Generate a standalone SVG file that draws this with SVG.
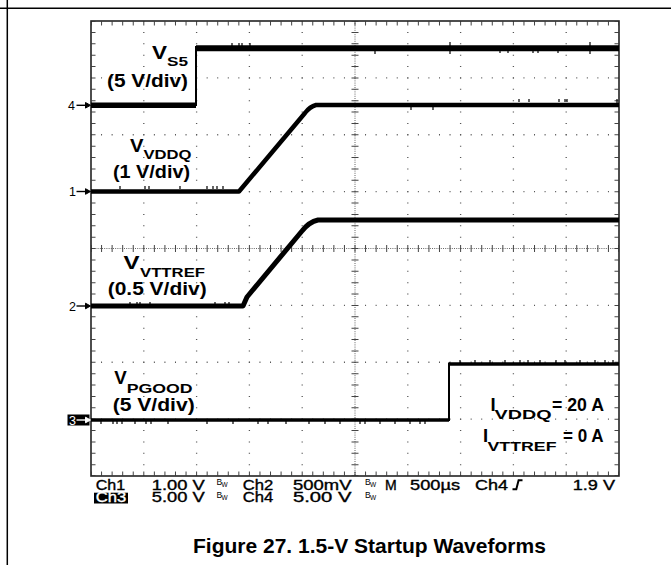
<svg xmlns="http://www.w3.org/2000/svg" xmlns:xlink="http://www.w3.org/1999/xlink" width="671" height="565" viewBox="0 0 671 565">
<style>
.b{font-family:"Liberation Sans",Arial,sans-serif;font-weight:bold;fill:#000}
.v{font-size:18.5px}
.s{font-size:13px}
.d{font-size:18.5px}
.sc{font-family:"Liberation Sans",Arial,sans-serif;font-size:14px;fill:#000;stroke:#000;stroke-width:0.35}
.bw{font-family:"Liberation Sans",Arial,sans-serif;fill:#000}
.mk{font-family:"Liberation Sans",Arial,sans-serif;font-size:12.5px;fill:#000}
.dotv{stroke:#555;stroke-width:1.3;stroke-dasharray:1 10.375;stroke-dashoffset:0.5;fill:none}
.doth{stroke:#555;stroke-width:1.3;stroke-dasharray:1 9.56;stroke-dashoffset:0.5;fill:none}
.tr{stroke:#000;fill:none;stroke-linejoin:round}
</style>
<defs>
<g id="arr"><line x1="0" y1="0" x2="10" y2="0" stroke-width="1.4"/><polygon points="9,-2.8 14,0 9,2.8"/></g>
</defs>
<g id="frame" stroke="#000" stroke-width="1.5">
<line x1="0" y1="8.3" x2="671" y2="8.3"/>
<line x1="7.3" y1="0" x2="7.3" y2="565"/>
</g>
<g id="grid">
<line class="dotv" x1="143.8" y1="21" x2="143.8" y2="476"/>
<line class="dotv" x1="196.6" y1="21" x2="196.6" y2="476"/>
<line class="dotv" x1="249.4" y1="21" x2="249.4" y2="476"/>
<line class="dotv" x1="302.2" y1="21" x2="302.2" y2="476"/>
<line class="dotv" x1="407.8" y1="21" x2="407.8" y2="476"/>
<line class="dotv" x1="460.6" y1="21" x2="460.6" y2="476"/>
<line class="dotv" x1="513.4" y1="21" x2="513.4" y2="476"/>
<line class="dotv" x1="566.2" y1="21" x2="566.2" y2="476"/>
<line class="doth" x1="91" y1="77.9" x2="619" y2="77.9"/>
<line class="doth" x1="91" y1="134.75" x2="619" y2="134.75"/>
<line class="doth" x1="91" y1="191.6" x2="619" y2="191.6"/>
<line class="doth" x1="91" y1="305.4" x2="619" y2="305.4"/>
<line class="doth" x1="91" y1="362.25" x2="619" y2="362.25"/>
<line class="doth" x1="91" y1="419.1" x2="619" y2="419.1"/>
<line x1="355" y1="21" x2="355" y2="476" stroke="#666" stroke-width="1" stroke-dasharray="1 1.2"/>
<line x1="91" y1="248.5" x2="619" y2="248.5" stroke="#666" stroke-width="1" stroke-dasharray="1 1.2"/>
<line x1="355" y1="21" x2="355" y2="476" stroke="#444" stroke-width="7" stroke-dasharray="1 10.375" stroke-dashoffset="0.5"/>
<line x1="91" y1="248.5" x2="619" y2="248.5" stroke="#444" stroke-width="7" stroke-dasharray="1 9.56" stroke-dashoffset="0.5"/>
<line x1="91" y1="23.5" x2="619" y2="23.5" stroke="#444" stroke-width="4" stroke-dasharray="1 9.56" stroke-dashoffset="0.5"/>
<line x1="91" y1="473.5" x2="619" y2="473.5" stroke="#444" stroke-width="4" stroke-dasharray="1 9.56" stroke-dashoffset="0.5"/>
<line x1="93.5" y1="21" x2="93.5" y2="476" stroke="#444" stroke-width="4" stroke-dasharray="1 10.375" stroke-dashoffset="0.5"/>
<line x1="616.5" y1="21" x2="616.5" y2="476" stroke="#444" stroke-width="4" stroke-dasharray="1 10.375" stroke-dashoffset="0.5"/>
<rect x="91" y="21" width="528" height="455" fill="none" stroke="#222" stroke-width="1.6"/>
</g>
<g id="traces">
<path class="tr" stroke-width="5.5" d="M91,105.3 H196"/>
<path class="tr" stroke-width="2" d="M196,106 V46"/>
<path class="tr" stroke-width="6" d="M196,48.3 H619"/>
<path class="tr" stroke-width="4.5" d="M91,191.5 H239 L305,113 Q310,106.5 316,105 H619"/>
<path class="tr" stroke-width="5" d="M91,306 H243 L247,297 L302,231 Q309,222 318,220 H619"/>
<path class="tr" stroke-width="3.5" d="M91,420 H449"/>
<path class="tr" stroke-width="2" d="M449,421 V362.5"/>
<path class="tr" stroke-width="3.5" d="M449,364 H619"/>
<path class="tr" stroke-width="1.2" d="M232,43 v3 M239,43 v3 M242,43 v3 M250,43 v3 M375,50 v4 M450,42 v4 M450,50 v4 M500,50 v3 M508,50 v3 M533,50 v3 M538,50 v3 M558,50 v3 M590,42 v4 M590,50 v4 M411,106 v4 M433,106 v4 M519,99 v3 M529,99 v3 M559,99 v3 M565,99 v3 M567,99 v3 M617,99 v4 M130,302 v3 M137,302 v3 M140,302 v3 M150,302 v3 M215,302 v3 M225,302 v3 M229,302 v3 M120,186 v3 M145,186 v3 M149,186 v3 M180,186 v3 M207,186 v3 M213,186 v3 M217,186 v3 M223,186 v3 M101,421 v3 M113,421 v3 M117,421 v3 M122,421 v3 M135,421 v3 M146,421 v3 M151,421 v3 M168,421 v3 M207,421 v3 M233,421 v3 M258,421 v3 M268,421 v3 M286,421 v3 M309,421 v3 M325,421 v3 M340,421 v3 M360,421 v3 M365,421 v3 M380,421 v3 M395,421 v3 M410,421 v3 M420,421 v3 M425,421 v3 M460,360 v3 M475,360 v3 M490,360 v3 M505,360 v3 M520,360 v3 M528,360 v3 M540,360 v3 M556,360 v3 M565,360 v3 M580,360 v3 M595,360 v3 M605,360 v3 M613,360 v3"/>
</g>
<g id="markers">
<text class="mk" x="68" y="110">4</text>
<use xlink:href="#arr" href="#arr" x="76.5" y="105.3" stroke="#000" fill="#000"/>
<text class="mk" x="69" y="196">1</text>
<use xlink:href="#arr" href="#arr" x="76.5" y="191.5" stroke="#000" fill="#000"/>
<text class="mk" x="69" y="310.5">2</text>
<use xlink:href="#arr" href="#arr" x="76.5" y="306" stroke="#000" fill="#000"/>
<rect x="67.5" y="414.5" width="22" height="11" fill="#000"/>
<text class="mk" x="69" y="424.5" style="fill:#fff">3</text>
<use xlink:href="#arr" href="#arr" x="76.5" y="420" stroke="#fff" fill="#fff"/>
</g>
<g id="label-vs5">
<text class="b v" x="152" y="59.3" textLength="15" lengthAdjust="spacingAndGlyphs">V</text>
<text class="b s" x="167" y="65.5" textLength="21" lengthAdjust="spacingAndGlyphs">S5</text>
<text class="b d" x="107" y="87" textLength="81" lengthAdjust="spacingAndGlyphs">(5 V/div)</text>
</g>
<g id="label-vddq">
<text class="b v" x="130" y="151.7" textLength="13.5" lengthAdjust="spacingAndGlyphs">V</text>
<text class="b s" x="143.5" y="159.3" textLength="48" lengthAdjust="spacingAndGlyphs">VDDQ</text>
<text class="b d" x="113" y="177.5" textLength="77" lengthAdjust="spacingAndGlyphs">(1 V/div)</text>
</g>
<g id="label-vttref">
<text class="b v" x="123.5" y="269.3" textLength="16" lengthAdjust="spacingAndGlyphs">V</text>
<text class="b s" x="140" y="277.3" textLength="65" lengthAdjust="spacingAndGlyphs">VTTREF</text>
<text class="b d" x="107.7" y="294.5" textLength="99" lengthAdjust="spacingAndGlyphs">(0.5 V/div)</text>
</g>
<g id="label-pgood">
<text class="b v" x="114.3" y="384" textLength="12.5" lengthAdjust="spacingAndGlyphs">V</text>
<text class="b s" x="126.7" y="393" textLength="66" lengthAdjust="spacingAndGlyphs">PGOOD</text>
<text class="b d" x="112.7" y="411" textLength="82" lengthAdjust="spacingAndGlyphs">(5 V/div)</text>
</g>
<g id="label-currents">
<text class="b v" x="490.5" y="411">I</text>
<text class="b s" x="494.5" y="419" textLength="57" lengthAdjust="spacingAndGlyphs">VDDQ</text>
<text class="b v" x="552" y="411" textLength="52" lengthAdjust="spacingAndGlyphs">= 20 A</text>
<text class="b v" x="483" y="441.7">I</text>
<text class="b s" x="487.5" y="451" textLength="69" lengthAdjust="spacingAndGlyphs">VTTREF</text>
<text class="b v" x="563" y="441.7" textLength="40.5" lengthAdjust="spacingAndGlyphs">= 0 A</text>
</g>
<g id="readout">
<text class="sc" x="95.7" y="489.5" textLength="29.5" lengthAdjust="spacingAndGlyphs">Ch1</text>
<text class="sc" x="151.7" y="489.5" textLength="53" lengthAdjust="spacingAndGlyphs">1.00 V</text>
<text class="bw" x="216.5" y="485" font-size="8.5">B</text><text class="bw" x="221.5" y="487" font-size="6.5">W</text>
<text class="sc" x="242.7" y="489.5" textLength="30.5" lengthAdjust="spacingAndGlyphs">Ch2</text>
<text class="sc" x="293" y="489.5" textLength="58.5" lengthAdjust="spacingAndGlyphs">500mV</text>
<text class="bw" x="365" y="485" font-size="8.5">B</text><text class="bw" x="370" y="487" font-size="6.5">W</text>
<text class="sc" x="385" y="489.5" textLength="11.7" lengthAdjust="spacingAndGlyphs">M</text>
<text class="sc" x="410" y="489.5" textLength="50" lengthAdjust="spacingAndGlyphs">500µs</text>
<text class="sc" x="475" y="489.5" textLength="33" lengthAdjust="spacingAndGlyphs">Ch4</text>
<path d="M512.5,489.3 H516.3 L518.6,480.3 H522.5" fill="none" stroke="#000" stroke-width="2"/>
<text class="sc" x="572.7" y="489.5" textLength="42.3" lengthAdjust="spacingAndGlyphs">1.9 V</text>
<rect x="94" y="492.7" width="34" height="10.8" fill="#000"/>
<text class="sc" x="95.7" y="502.3" textLength="30.5" lengthAdjust="spacingAndGlyphs" style="fill:#fff;stroke:#fff">Ch3</text>
<text class="sc" x="151.7" y="502.3" textLength="53" lengthAdjust="spacingAndGlyphs">5.00 V</text>
<text class="bw" x="216.5" y="498" font-size="8.5">B</text><text class="bw" x="221.5" y="500" font-size="6.5">W</text>
<text class="sc" x="242.7" y="502.3" textLength="30.5" lengthAdjust="spacingAndGlyphs">Ch4</text>
<text class="sc" x="293" y="502.3" textLength="58.5" lengthAdjust="spacingAndGlyphs">5.00 V</text>
<text class="bw" x="365" y="498" font-size="8.5">B</text><text class="bw" x="370" y="500" font-size="6.5">W</text>
</g>
<g id="caption">
<text class="b" x="193" y="553" font-size="21">Figure 27. 1.5-V Startup Waveforms</text>
</g>
</svg>
